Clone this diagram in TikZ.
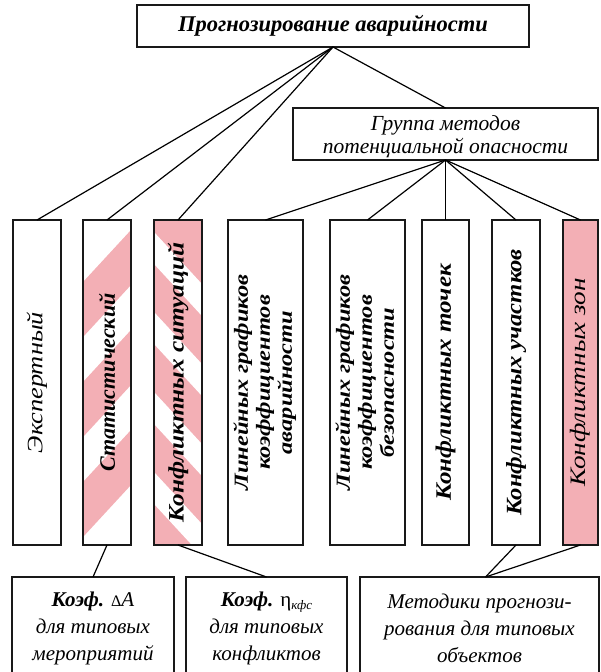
\documentclass[tikz,border=0pt]{standalone}
\usepackage{fontspec}
\usepackage{graphicx}
\setmainfont{Liberation Serif}
\definecolor{pinkc}{RGB}{243,175,181}
\newcommand{\vtext}[2]{\rotatebox{90}{\scalebox{#1}[1]{#2}}}
\begin{document}
\begin{tikzpicture}[x=1pt,y=-1pt,
  box/.style={draw=black!90, line width=1.4pt, inner sep=0pt, outer sep=0pt},
  conn/.style={draw=black, line width=1.2pt},
  colbf/.style={font=\fontsize{22}{26}\selectfont\bfseries\itshape},
  colit/.style={font=\fontsize{22}{26}\selectfont\itshape},
  lintext/.style={font=\fontsize{20}{22}\selectfont\bfseries\itshape},
  bottext/.style={font=\fontsize{21}{27}\selectfont\itshape, align=center}]
\useasboundingbox (0,0) rectangle (600,672);
\clip (0,0) rectangle (600,672);
% stripes of "Statistical"
\begin{scope}
  \clip (83,220) rectangle (131,545);
  \foreach \a in {282,382,482}{
    \fill[pinkc] (83,\a) -- (131,\a-52) -- (131,\a+3) -- (83,\a+55) -- cycle;
  }
\end{scope}
% stripes of "Conflict situations"
\begin{scope}
  \clip (154,220) rectangle (202,545);
  \fill[pinkc] (154,220) rectangle (202,545);
  \foreach \b in {232,312,392,472}{
    \fill[white] (154,\b) -- (202,\b+52) -- (202,\b+84) -- (154,\b+32) -- cycle;
  }
\end{scope}
% top
\node[box, minimum width=392pt, minimum height=42pt,
  font=\fontsize{22.5}{26}\selectfont\bfseries\itshape] (top) at (333,26) {Прогнозирование аварийности};
\node[box, minimum width=305pt, minimum height=52pt] (grp) at (445.5,134) {};
\node[align=center, inner sep=0pt, font=\fontsize{21.5}{23}\selectfont\itshape] (grptxt) at (445.5,137)
  {Группа методов\\потенциальной опасности};
% columns
\node[box, minimum width=48pt, minimum height=325pt, colit] (exp) at (37,382.5)
  {\vtext{1.2}{Экспертный}};
\node[box, minimum width=48pt, minimum height=325pt, colbf] (stat) at (107,382.5)
  {\vtext{1.0}{Статистический}};
\node[box, minimum width=48pt, minimum height=325pt, colbf] (ks) at (178,382.5)
  {\vtext{1.15}{Конфликтных ситуаций}};
\node[box, minimum width=75pt, minimum height=325pt, lintext] (lav) at (265.5,382.5)
  {\rotatebox{90}{\scalebox{1.22}[1]{\begin{tabular}{@{}c@{}}Линейных графиков\\коэффициентов\\аварийности\end{tabular}}}};
\node[box, minimum width=75pt, minimum height=325pt, lintext] (lbz) at (367.5,382.5)
  {\rotatebox{90}{\scalebox{1.22}[1]{\begin{tabular}{@{}c@{}}Линейных графиков\\коэффициентов\\безопасности\end{tabular}}}};
\node[box, minimum width=47pt, minimum height=325pt, colbf] (kt) at (445.5,382.5)
  {\vtext{1.14}{Конфликтных точек}};
\node[box, minimum width=48pt, minimum height=325pt, colbf] (ku) at (516,382.5)
  {\vtext{1.12}{Конфликтных участков}};
\node[box, fill=pinkc, minimum width=35pt, minimum height=325pt, colit] (kz) at (580.5,382.5)
  {\vtext{1.24}{Конфликтных зон}};
% bottom boxes
\node[box, minimum width=162pt, minimum height=103pt, bottext] (b1) at (93,628.5)
  {\textbf{Коэф.} {\upshape\fontsize{16}{16}\selectfont Δ}\textit{A}\\для типовых\\мероприятий};
\node[box, minimum width=161pt, minimum height=103pt, bottext] (b2) at (266.5,628.5)
  {\textbf{Коэф.} {\upshape η}\raisebox{-0.35ex}{\fontsize{13}{13}\selectfont кфс}\\для типовых\\конфликтов};
\node[box, minimum width=239pt, minimum height=103pt, bottext] (b3) at (479.5,628.5)
  {Методики прогнози-\\рования для типовых\\объектов};
\coordinate (b3in) at ([xshift=6pt]b3.north);
% connectors
\draw[conn] (top.south) -- (exp.north);
\draw[conn] (top.south) -- (stat.north);
\draw[conn] (top.south) -- (ks.north);
\draw[conn] (top.south) -- (grp.north);
\draw[conn] (grp.south) -- (lav.north);
\draw[conn] (grp.south) -- (lbz.north);
\draw[conn] (grp.south) -- (kt.north);
\draw[conn] (grp.south) -- (ku.north);
\draw[conn] (grp.south) -- (kz.north);
\draw[conn] (stat.south) -- (b1.north);
\draw[conn] (ks.south) -- (b2.north);
\draw[conn] (ku.south) -- (b3in);
\draw[conn] (kz.south) -- (b3in);
\end{tikzpicture}
\end{document}
